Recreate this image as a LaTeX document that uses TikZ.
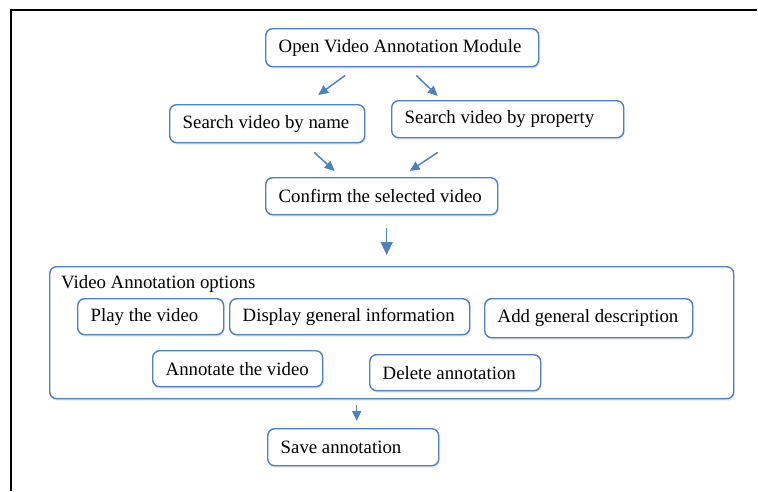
\documentclass[tikz,border=0pt]{standalone}
\usepackage{fontspec}
\setmainfont{Liberation Serif}
\usetikzlibrary{arrows.meta,calc,shadows}

\definecolor{boxblue}{RGB}{79,129,189}

\tikzstyle{box}  = [draw=boxblue, fill=white, line width=1.4pt, rounded corners=7pt, anchor=north west, align=left, inner xsep=13pt, inner ysep=0pt, execute at begin node={\spaceskip=0pt\xspaceskip=0pt}, drop shadow={shadow xshift=1pt, shadow yshift=-2pt, opacity=0.18}]
\tikzstyle{flow} = [-{Triangle[length=10pt,width=9pt]}, draw=boxblue, line width=1.5pt]

\begin{document}
\begin{tikzpicture}[x=1pt, y=-1pt, font=\fontsize{18.8}{22}\selectfont]
  \useasboundingbox (0,0) rectangle (758,491);
  \draw[line width=2pt] (11,491) -- (11,10) -- (757,10);

  \node at (265,28)  (open)    [box, text width=247pt, minimum height=38pt] {Open Video Annotation Module};
  \node at (169,104) (name)    [box, text width=169pt, minimum height=38pt] {Search video by name};
  \node at (391,100) (prop)    [box, text width=206pt, minimum height=37pt] {Search video by property};
  \node at (265,177) (confirm) [box, text width=206pt, minimum height=37pt] {Confirm the selected video};

  % options group
  \node at (49,266) (opts) [box, minimum width=684pt, minimum height=132pt] {};
  \node at (61,288) (optstitle) [anchor=base west, inner sep=0pt] {Video Annotation options};
  \node at (77,298)  (play)     [box, text width=120pt, minimum height=36pt] {Play the video};
  \node at (229,298) (display)  [box, text width=214pt, minimum height=36pt] {Display general information};
  \node at (484,298) (adddesc)  [box, text width=182pt, minimum height=39pt] {Add general description};
  \node at (152,350) (annotate) [box, text width=144pt, minimum height=36pt] {Annotate the video};
  \node at (369,354) (delete)   [box, text width=145pt, minimum height=36pt] {Delete annotation};

  \node at (267,428) (save) [box, text width=145pt, minimum height=37pt] {Save annotation};

  \draw[flow] ($(open.south)+(-57,8)$) -- ($(name.north)+(51,-9)$);
  \draw[flow] ($(open.south)+(14,8)$)  -- ($(prop.north)+(-70,-4)$);
  \draw[flow] ($(name.south)+(47,9)$)  -- ($(confirm.north)+(-47,-6)$);
  \draw[flow] ($(prop.south)+(-70,14)$) -- ($(confirm.north)+(28,-6)$);
  \draw[flow, -{Triangle[length=13pt,width=12pt]}] ($(confirm.south)+(5,13)$) -- ($(opts.north)+(-5,-11)$);
  \draw[flow] ($(opts.south)+(-35,6)$) -- ($(save.north)+(3.5,-7)$);
\end{tikzpicture}
\end{document}
